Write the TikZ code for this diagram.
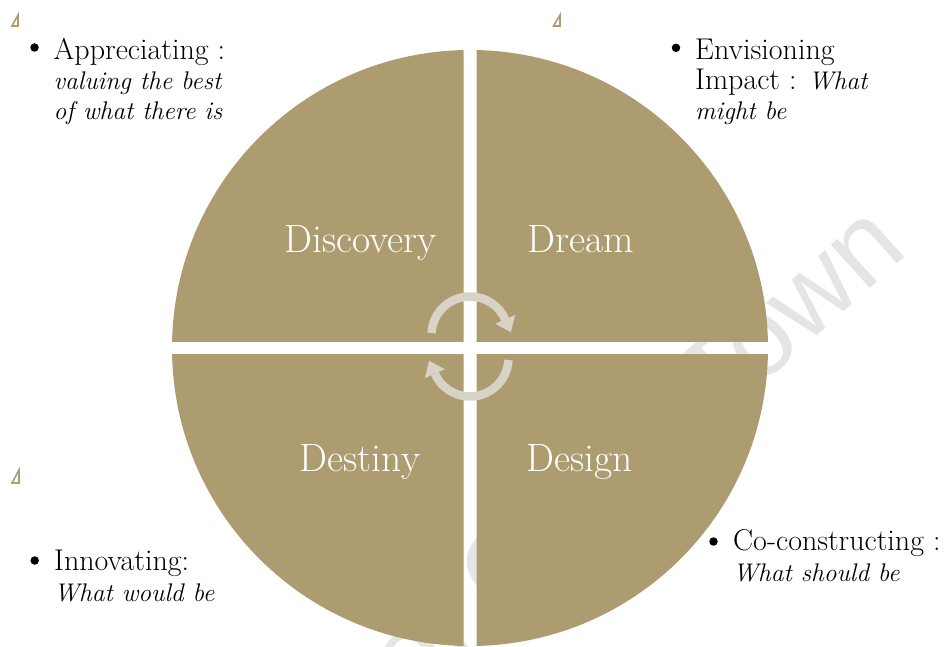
\documentclass[tikz,border=0pt]{standalone}
\usepackage{fontspec}
\usetikzlibrary{calc}
\definecolor{gold}{RGB}{173,156,111}
\definecolor{cyc}{RGB}{217,210,199}
\definecolor{wm}{RGB}{229,229,229}
\newfontfamily\wmfont{Liberation Sans}
\begin{document}
\begin{tikzpicture}[x=1pt,y=1pt,
  quadfill/.style={fill=gold},
  lab/.style={text=white, font=\fontsize{39.5}{44}\selectfont, anchor=base, inner sep=0},
  btext/.style={anchor=base west, inner sep=0, font=\fontsize{30}{34}\selectfont},
  itext/.style={anchor=base west, inner sep=0, font=\fontsize{25.5}{30}\selectfont\itshape},
  bdot/.style={circle, fill=black, inner sep=0, minimum size=8.5pt},
  marker/.style={draw=gold, line width=1.6pt, line join=miter},
  cycarc/.style={draw=cyc, line width=8.5pt},
  cychead/.style={fill=cyc},
]
\useasboundingbox (0,0) rectangle (951,646);
% watermark (behind the circle)
\node[rotate=42, anchor=base east, text=wm, font=\wmfont\fontsize{110}{115}\selectfont, inner sep=0] (wmk) at (910,394) {University of Cape Town};
% circle centre
\coordinate (C) at (470,298);
% four quadrants
\begin{scope}\clip (0,304.5) rectangle (463.5,646); \fill[quadfill] (C) circle (298); \end{scope}
\begin{scope}\clip (476.5,304.5) rectangle (951,646); \fill[quadfill] (C) circle (298); \end{scope}
\begin{scope}\clip (0,0) rectangle (463.5,291); \fill[quadfill] (C) circle (298); \end{scope}
\begin{scope}\clip (476.5,0) rectangle (951,291); \fill[quadfill] (C) circle (298); \end{scope}
% quadrant labels
\node[lab] (disc) at (360.5,393.3) {Discovery};
\node[lab] (dream) at (580.5,393.7) {Dream};
\node[lab] (dest) at (360,174.3) {Destiny};
\node[lab] (desg) at (580,174.3) {Design};
% cycle arrows
\coordinate (U) at (470,311);
\coordinate (L) at (470,288);
\draw[cycarc] (U) ++(177:38.5) arc[start angle=177, end angle=24, radius=38.5];
\fill[cychead] ([shift={(24:27.5)}]U) -- ([shift={(24:49.5)}]U) -- ($(U)+(24:38.5)+(-66:14)$) -- cycle;
\draw[cycarc] (L) ++(-3:38.5) arc[start angle=-3, end angle=-156, radius=38.5];
\fill[cychead] ([shift={(-156:27.5)}]L) -- ([shift={(-156:49.5)}]L) -- ($(L)+(-156:38.5)+(114:14)$) -- cycle;
% small markers
\draw[marker] (12,620) -- (18,631) -- (18,620) -- cycle;
\draw[marker] (553.5,620) -- (560,631) -- (560,620) -- cycle;
\draw[marker] (12,163) -- (19,176) -- (19,163) -- cycle;
% bullet 1
\node[bdot] (b1) at (34.5,598.5) {};
\node[btext] (t1a) at (53.5,586) {Appreciating :};
\node[itext] (t1b) at (53.5,556) {valuing the best};
\node[itext] (t1c) at (53.5,526) {of what there is};
% bullet 2
\node[bdot] (b2) at (676,598.2) {};
\node[btext] (t2a) at (695,586) {Envisioning};
\node[btext] (t2b) at (695,556) {Impact : {\fontsize{25.5}{30}\selectfont\itshape What}};
\node[itext] (t2c) at (695,526) {might be};
% bullet 3
\node[bdot] (b3) at (34.7,85.5) {};
\node[btext] (t3a) at (54,75.3) {Innovating:};
\node[itext] (t3b) at (54,44.3) {What would be};
% bullet 4
\node[bdot] (b4) at (713.5,104.5) {};
\node[btext] (t4a) at (733,96) {Co-constructing :};
\node[itext] (t4b) at (733,64.3) {What should be};
\end{tikzpicture}
\end{document}
